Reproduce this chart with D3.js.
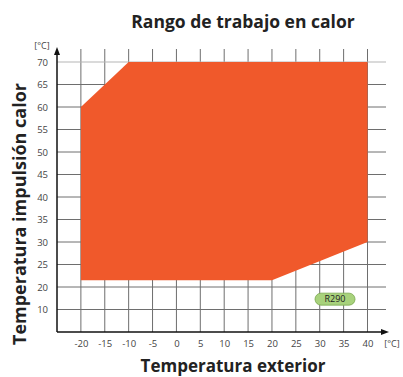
<!DOCTYPE html>
<html>
<head>
<meta charset="utf-8">
<script src="https://cdn.jsdelivr.net/npm/d3@7"></script>
<style>
  html, body { margin: 0; padding: 0; background: #fff; }
  svg { display: block; font-family: "Open Sans", "Noto Sans", sans-serif; }
</style>
</head>
<body>
<svg id="chart" width="403" height="377"></svg>
<script>
// Operating envelope (outdoor temperature °C, supply temperature °C)
const envelopeX = [-20, -10, 40, 40, 20, -20];
const envelopeY = [60, 70, 70, 30, 21.5, 21.5];

const xTickValues = [-20, -15, -10, -5, 0, 5, 10, 15, 20, 25, 30, 35, 40];
const xTickLabels = ["-20", "-15", "-10", "-5", "0", "5", "10", "15", "20", "25", "30", "35", "40"];
const yTickValues = [15, 20, 25, 30, 35, 40, 45, 50, 55, 60, 65, 70];
const yTickLabels = ["10", "20", "25", "30", "35", "40", "45", "50", "55", "60", "65", "70"];

const refrigerant = "R290";
const refrigerantPos = [33.2, 17.3];

const svg = d3.select("#chart");

const x = d3.scaleLinear().domain([-25, 40]).range([57, 367.5]);
const y = d3.scaleLinear().domain([10, 70]).range([332, 62]);

// Grid
const grid = svg.append("g");
grid.selectAll("line.v").data(xTickValues).join("line")
  .attr("x1", d => x(d)).attr("x2", d => x(d))
  .attr("y1", 49).attr("y2", y(10))
  .attr("stroke", "#6e6e6e").attr("stroke-width", 1);
grid.selectAll("line.h").data(yTickValues).join("line")
  .attr("x1", x(-25)).attr("x2", 386)
  .attr("y1", d => y(d)).attr("y2", d => y(d))
  .attr("stroke", d => d === 70 ? "#b5b5b5" : "#6e6e6e").attr("stroke-width", 1);

// Envelope polygon
const pts = envelopeX.map((v, i) => [x(v), y(envelopeY[i])]);
svg.append("path")
  .attr("d", d3.line()(pts) + "Z")
  .attr("fill", "#f0592b");

// Axes
const xAxis = d3.axisBottom(x).tickValues(xTickValues)
  .tickFormat((d, i) => xTickLabels[i]).tickSize(0).tickPadding(8);
const gx = svg.append("g").attr("transform", `translate(0,${y(10)})`).call(xAxis);
gx.select(".domain").remove();
gx.selectAll("text").attr("font-size", 9.5).attr("fill", "#444")
  .attr("font-family", "Open Sans, sans-serif");

const yAxis = d3.axisLeft(y).tickValues(yTickValues)
  .tickFormat((d, i) => yTickLabels[i]).tickSize(0).tickPadding(9);
const gy = svg.append("g").attr("transform", `translate(${x(-25)},0)`).call(yAxis);
gy.select(".domain").remove();
gy.selectAll("text").attr("font-size", 9.5).attr("fill", "#444")
  .attr("font-family", "Open Sans, sans-serif");

// Axis lines with arrowheads
svg.append("line").attr("x1", x(-25)).attr("x2", x(-25))
  .attr("y1", y(10)).attr("y2", 52).attr("stroke", "#111").attr("stroke-width", 1.5);
svg.append("path").attr("d", `M${x(-25)},47 L${x(-25) - 3},55 L${x(-25) + 3},55 Z`).attr("fill", "#111");
svg.append("line").attr("x1", x(-25)).attr("x2", 384)
  .attr("y1", y(10)).attr("y2", y(10)).attr("stroke", "#111").attr("stroke-width", 1.5);
svg.append("path").attr("d", `M389,${y(10)} L381,${y(10) - 3} L381,${y(10) + 3} Z`).attr("fill", "#111");

// Unit labels
svg.append("text").attr("x", 42).attr("y", 49).attr("text-anchor", "middle")
  .attr("font-size", 9).attr("fill", "#444").text("[°C]");
svg.append("text").attr("x", 392).attr("y", 347).attr("text-anchor", "middle")
  .attr("font-size", 9).attr("fill", "#444").text("[°C]");

// Refrigerant badge
const bx = x(refrigerantPos[0]), by = y(refrigerantPos[1]);
svg.append("rect").attr("x", bx - 20).attr("y", by - 6).attr("width", 40).attr("height", 12)
  .attr("rx", 6).attr("fill", "#a8d27c").attr("stroke", "#7aa84e").attr("stroke-width", 0.8);
svg.append("text").attr("x", bx).attr("y", by + 3.3).attr("text-anchor", "middle")
  .attr("font-size", 9).attr("fill", "#222").text(refrigerant);

// Titles
svg.append("text").attr("x", 243).attr("y", 28).attr("text-anchor", "middle")
  .attr("font-size", 17.5).attr("font-weight", "bold").attr("fill", "#222")
  .text("Rango de trabajo en calor");
svg.append("text").attr("x", 233).attr("y", 372).attr("text-anchor", "middle")
  .attr("font-size", 17).attr("font-weight", "bold").attr("fill", "#222")
  .text("Temperatura exterior");
svg.append("text").attr("transform", "translate(26,214) rotate(-90)").attr("text-anchor", "middle")
  .attr("font-size", 18).attr("font-weight", "bold").attr("fill", "#222")
  .text("Temperatura impulsión calor");
</script>
</body>
</html>
